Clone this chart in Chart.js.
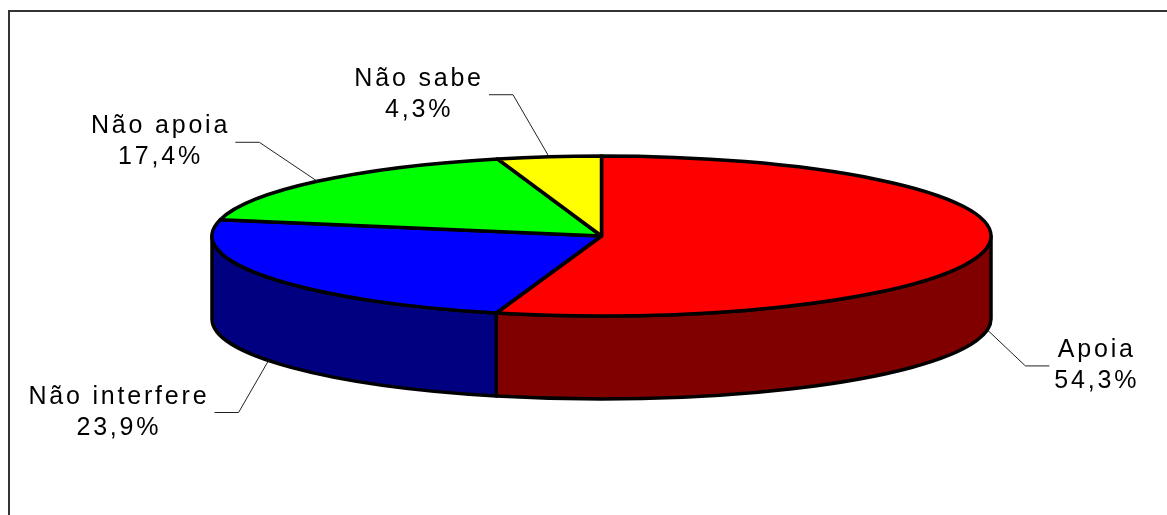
<!DOCTYPE html>
<html>
<head>
<meta charset="utf-8">
<script src="https://cdn.jsdelivr.net/npm/chart.js@4.4.0/dist/chart.umd.min.js"></script>
<style>
  html, body { margin: 0; padding: 0; background: #fff; }
  canvas { display: block; }
</style>
</head>
<body>
<canvas id="chart" width="1167" height="515"></canvas>
<script>
const labels = ['Apoia', 'Não interfere', 'Não apoia', 'Não sabe'];
const shares = [54.3, 23.9, 17.4, 4.3];
const topColors = ['#ff0000', '#0000ff', '#00ff00', '#ffff00'];
const sideColors = ['#800000', '#000080', '#008000', '#808000'];
// where each leader line bends, relative to its point on the pie
const leaderBends = [[38, 36], [-30, 52], [-58, -39], [-36, -62]];

const depth = 83;
const spacing = 2.8;

let fmt = function(v) {
    return v.toFixed(1).replace('.', ',') + '%';
};

let pie3d = {
    id: 'pie3d',
    beforeDraw(chart) {
        const ctx = chart.ctx;
        ctx.save();
        ctx.fillStyle = '#fff';
        ctx.fillRect(0, 0, chart.width, chart.height);
        ctx.strokeStyle = '#333';
        ctx.lineWidth = 2;
        ctx.strokeRect(9, 11, chart.width + 20, chart.height + 20);
        ctx.restore();
    },
    beforeDatasetsDraw(chart) {
        const ctx = chart.ctx;
        const area = chart.chartArea;
        const cx = (area.left + area.right) / 2;
        const rx = (area.right - area.left) / 2;
        const ry = (area.bottom - area.top - depth) / 2;
        const cy = area.top + ry;
        const arcs = chart.getDatasetMeta(0).data;

        ctx.save();
        ctx.lineWidth = 3.5;
        ctx.lineJoin = 'round';
        ctx.strokeStyle = '#000';

        // side walls, only the front half shows
        arcs.forEach((arc, i) => {
            const a = Math.max(arc.startAngle, 0);
            const b = Math.min(arc.endAngle, Math.PI);
            if (a >= b) return;
            ctx.beginPath();
            ctx.ellipse(cx, cy, rx, ry, 0, a, b);
            ctx.lineTo(cx + rx * Math.cos(b), cy + depth + ry * Math.sin(b));
            ctx.ellipse(cx, cy + depth, rx, ry, 0, b, a, true);
            ctx.closePath();
            ctx.fillStyle = sideColors[i];
            ctx.fill();
            ctx.stroke();
        });

        // top face
        arcs.forEach((arc, i) => {
            ctx.beginPath();
            ctx.moveTo(cx, cy);
            ctx.ellipse(cx, cy, rx, ry, 0, arc.startAngle, arc.endAngle);
            ctx.closePath();
            ctx.fillStyle = topColors[i];
            ctx.fill();
            ctx.stroke();
        });

        // labels with leader lines
        ctx.font = '25px "Liberation Sans", Arial, sans-serif';
        ctx.letterSpacing = spacing + 'px';
        ctx.textBaseline = 'alphabetic';
        ctx.textAlign = 'left';
        arcs.forEach((arc, i) => {
            const m = (arc.startAngle + arc.endAngle) / 2;
            const px = cx + rx * Math.cos(m);
            const py = cy + ry * Math.sin(m) + (Math.sin(m) > 0 ? depth : 0);
            const bx = px + leaderBends[i][0];
            const by = py + leaderBends[i][1];
            const right = leaderBends[i][0] > 0;
            const ex = bx + (right ? 24 : -24);

            ctx.lineWidth = 1;
            ctx.strokeStyle = '#222';
            ctx.beginPath();
            ctx.moveTo(px, py);
            ctx.lineTo(bx, by);
            ctx.lineTo(ex, by);
            ctx.stroke();

            const lines = [labels[i], fmt(shares[i])];
            const widths = lines.map(s => ctx.measureText(s).width - spacing);
            const w = Math.max(...widths);
            const mid = right ? ex + 5 + w / 2 : ex - 8 - w / 2;
            ctx.fillStyle = '#000';
            lines.forEach((s, k) => {
                ctx.fillText(s, mid - widths[k] / 2, by + (k === 0 ? -9 : 22));
            });
        });

        ctx.restore();
        return false;
    }
};

new Chart(document.getElementById('chart'), {
    type: 'pie',
    data: {
        labels: labels,
        datasets: [{
            data: shares,
            backgroundColor: topColors,
            borderWidth: 0
        }]
    },
    options: {
        responsive: false,
        animation: false,
        layout: {
            padding: { left: 212, right: 176, top: 156, bottom: 116 }
        },
        plugins: {
            legend: { display: false },
            tooltip: { enabled: false }
        }
    },
    plugins: [pie3d]
});
</script>
</body>
</html>
